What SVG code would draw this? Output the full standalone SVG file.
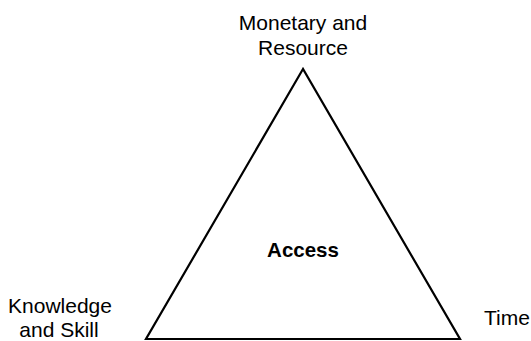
<svg xmlns="http://www.w3.org/2000/svg" width="531" height="341" viewBox="0 0 531 341">
<style>
text{font-family:"Liberation Sans",Arial,sans-serif;font-size:21px;fill:#000;text-anchor:middle}
.b{font-weight:bold;font-size:20.5px}
.tri{fill:none;stroke:#000;stroke-width:2.2;stroke-linejoin:miter}
</style>
<rect width="531" height="341" fill="#fff"/>
<g id="triangle">
<polygon class="tri" points="303,69 146,339 460,339"/>
<text class="b" x="303" y="257">Access</text>
</g>
<g id="monetary"><text x="303" y="30">Monetary and</text><text x="303" y="55">Resource</text></g>
<g id="knowledge"><text x="60" y="313">Knowledge</text><text x="59" y="337">and Skill</text></g>
<g id="time"><text x="507" y="325">Time</text></g>
<g id="connectors"/>
</svg>
